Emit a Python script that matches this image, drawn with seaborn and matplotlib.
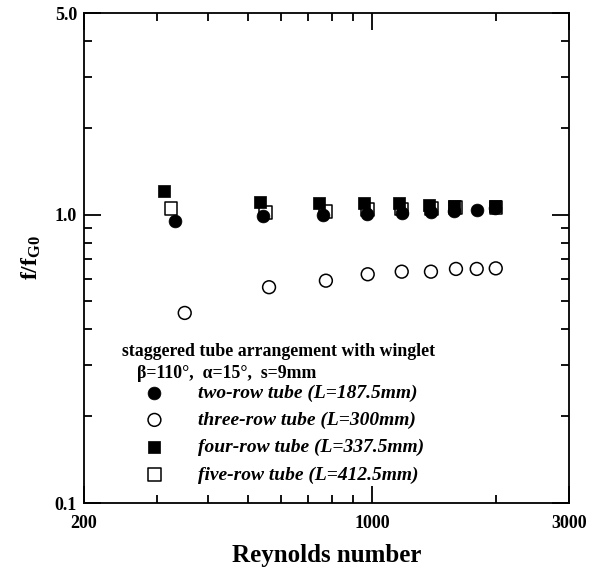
import numpy as np
import pandas as pd
import matplotlib
matplotlib.use("Agg")
import matplotlib.pyplot as plt
import seaborn as sns
from matplotlib.ticker import FixedLocator, NullFormatter, FixedFormatter

# ---- data ----
re_two = [333, 544, 758, 970, 1179, 1388, 1578, 1792, 1985]
f_two = [0.953, 0.989, 0.997, 1.005, 1.013, 1.02, 1.03, 1.037, 1.054]

re_three = [351, 562, 772, 975, 1179, 1388, 1596, 1792, 1993]
f_three = [0.456, 0.560, 0.590, 0.621, 0.634, 0.634, 0.648, 0.648, 0.651]

re_four = [313, 534, 744, 957, 1163, 1376, 1577, 1985]
f_four = [1.21, 1.108, 1.10, 1.10, 1.094, 1.08, 1.071, 1.071]

re_five = [325, 552, 770, 975, 1180, 1390, 1590, 1995]
f_five = [1.051, 1.02, 1.025, 1.04, 1.045, 1.05, 1.055, 1.06]

labels = ["two-row tube (L=187.5mm)", "three-row tube (L=300mm)",
          "four-row tube (L=337.5mm)", "five-row tube (L=412.5mm)"]

x_ticklabels = ["200", "1000", "3000"]
y_ticklabels = ["0.1", "1.0", "5.0"]

# ---- style ----
sns.set_theme(style="ticks")
plt.rcParams["font.family"] = ["Liberation Serif", "DejaVu Serif"]
plt.rcParams["font.weight"] = "bold"
plt.rcParams["text.color"] = "black"
plt.rcParams["axes.labelcolor"] = "black"
plt.rcParams["xtick.color"] = "black"
plt.rcParams["ytick.color"] = "black"
plt.rcParams["mathtext.fontset"] = "custom"
plt.rcParams["mathtext.rm"] = "Liberation Serif:bold"
plt.rcParams["mathtext.bf"] = "Liberation Serif:bold"
plt.rcParams["mathtext.it"] = "Liberation Serif:bold:italic"

fig = plt.figure(figsize=(5.91, 5.72), dpi=100)
ax = fig.add_axes([84/591, 1-503/572, (569-84)/591, (503-13)/572])

ms = 85
df5 = pd.DataFrame({"Re": re_five, "f": f_five})
df4 = pd.DataFrame({"Re": re_four, "f": f_four})
df3 = pd.DataFrame({"Re": re_three, "f": f_three})
df2 = pd.DataFrame({"Re": re_two, "f": f_two})

sns.scatterplot(data=df5, x="Re", y="f", ax=ax, marker="s", s=ms,
                facecolor="none", edgecolor="black", linewidth=1.1, label=labels[3], zorder=3)
sns.scatterplot(data=df4, x="Re", y="f", ax=ax, marker="s", s=ms,
                color="black", edgecolor="black", linewidth=0.5, label=labels[2], zorder=4)
sns.scatterplot(data=df3, x="Re", y="f", ax=ax, marker="o", s=ms,
                facecolor="none", edgecolor="black", linewidth=1.1, label=labels[1], zorder=3)
sns.scatterplot(data=df2, x="Re", y="f", ax=ax, marker="o", s=ms,
                color="black", edgecolor="black", linewidth=0.5, label=labels[0], zorder=5)

ax.set_xscale("log")
ax.set_yscale("log")
ax.set_xlim(200, 3000)
ax.set_ylim(0.1, 5.0)

ax.xaxis.set_major_locator(FixedLocator([200, 1000, 3000]))
ax.xaxis.set_major_formatter(FixedFormatter(x_ticklabels))
ax.xaxis.set_minor_locator(FixedLocator([300, 400, 500, 600, 700, 800, 900, 2000]))
ax.xaxis.set_minor_formatter(NullFormatter())
ax.yaxis.set_major_locator(FixedLocator([0.1, 1.0, 5.0]))
ax.yaxis.set_major_formatter(FixedFormatter(y_ticklabels))
ax.yaxis.set_minor_locator(FixedLocator([0.2, 0.3, 0.4, 0.5, 0.6, 0.7, 0.8, 0.9, 2, 3, 4]))
ax.yaxis.set_minor_formatter(NullFormatter())

ax.tick_params(which="both", direction="in", top=True, right=True, width=1.3, colors="black")
ax.tick_params(which="major", length=12, labelsize=13)
ax.tick_params(axis="x", which="major", pad=9)
ax.tick_params(axis="y", which="major", pad=5)
ax.tick_params(which="minor", length=6)
for lbl in ax.get_xticklabels() + ax.get_yticklabels():
    lbl.set_fontweight("bold")
for sp in ax.spines.values():
    sp.set_linewidth(1.3)
    sp.set_color("black")

ax.set_xlabel("Reynolds number", fontsize=18, fontweight="bold", labelpad=8)
ax.set_ylabel("f/f$_{\\mathrm{G0}}$", fontsize=17, fontweight="bold")
ax.yaxis.set_label_coords(-0.085, 0.5)

# legend header
ax.text(122/591, 1-352/572, "staggered tube arrangement with winglet", transform=fig.transFigure,
        fontsize=12.8, fontweight="bold", va="center", ha="left")
ax.text(137/591, 1-373/572, "β=110°,  α=15°,  s=9mm", transform=fig.transFigure,
        fontsize=12.8, fontweight="bold", va="center", ha="left")

handles, lbls = ax.get_legend_handles_labels()
order = [lbls.index(l) for l in labels]
leg = ax.legend([handles[i] for i in order], [lbls[i] for i in order],
                loc="upper left", bbox_to_anchor=(135/591, 1-384/572),
                bbox_transform=fig.transFigure, frameon=False,
                prop={"family": "Liberation Serif", "weight": "bold", "style": "italic", "size": 14},
                handletextpad=1.25, labelspacing=0.5, borderaxespad=0, borderpad=0)

fig.savefig("out.png", dpi=100)
